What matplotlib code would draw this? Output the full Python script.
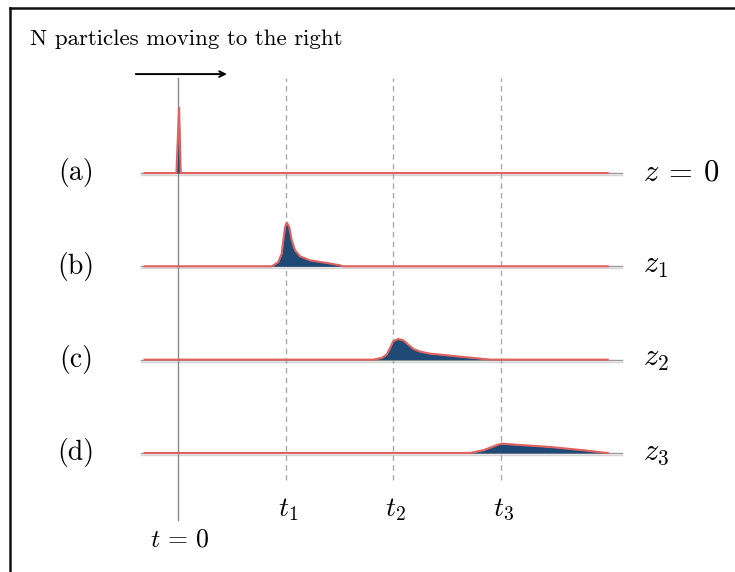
import numpy as np
import matplotlib.pyplot as plt
import matplotlib.patheffects as pe
from matplotlib.lines import Line2D

plt.rcParams['font.family'] = 'serif'
plt.rcParams['font.serif'] = ['cmr10']
plt.rcParams['mathtext.fontset'] = 'cm'
plt.rcParams['axes.unicode_minus'] = False

# time marks (t = 0, t1, t2, t3) and row labels
t_marks = [0, 1, 2, 3]
t_labels = [r'$t\,=\,0$', '$t_1$', '$t_2$', '$t_3$']
row_labels = ['(a)', '(b)', '(c)', '(d)']
z_labels = [r'$z\:=\:0$', '$z_1$', '$z_2$', '$z_3$']

# pulse shapes: (time, height) for each row
pulse_a_t = [-0.03, -0.015, 0.01, 0.025, 0.04]
pulse_a_h = [0.0, 0.0, 0.70, 0.0, 0.0]
pulse_b_t = [0.870, 0.931, 0.963, 0.978, 0.994, 1.010, 1.033, 1.056, 1.086,
             1.133, 1.226, 1.381, 1.504, 1.532]
pulse_b_h = [0.0, 0.046, 0.136, 0.279, 0.421, 0.469, 0.421, 0.279, 0.172,
             0.107, 0.064, 0.036, 0.011, 0.0]
pulse_c_t = [1.813, 1.891, 1.938, 1.969, 2.0, 2.045, 2.092, 2.138, 2.185,
             2.247, 2.340, 2.463, 2.618, 2.742, 2.834, 2.90]
pulse_c_h = [0.0, 0.018, 0.054, 0.125, 0.20, 0.221, 0.207, 0.161, 0.115,
             0.086, 0.064, 0.050, 0.032, 0.018, 0.008, 0.0]
pulse_d_t = [2.711, 2.835, 2.958, 3.005, 3.083, 3.454, 3.763, 3.98]
pulse_d_h = [0.0, 0.029, 0.083, 0.10, 0.093, 0.064, 0.029, 0.0]

pulses = [(pulse_a_t, pulse_a_h), (pulse_b_t, pulse_b_h),
          (pulse_c_t, pulse_c_h), (pulse_d_t, pulse_d_h)]

t_start, t_end = -0.31, 3.99
fill_col = '#1f4a75'
red = '#e0625f'

fig = plt.figure(figsize=(7.35, 5.72), dpi=100)
ax = fig.add_axes([0, 0, 1, 1])
ax.set_xlim(-1.653, 5.172)
ax.set_ylim(-4.276, 1.854)
ax.axis('off')

# vertical guides
ax.plot([0, 0], [-3.72, 1.02], color='#8a8a8a', lw=1.0, zorder=1)
for tm in t_marks[1:]:
    ax.plot([tm, tm], [-3.29, 1.02], color='#aaaaaa', lw=1.0,
            ls=(0, (4, 3)), zorder=1)

shadow = [pe.SimpleLineShadow(offset=(0, -1.5), shadow_color='#999999', alpha=0.4),
          pe.Normal()]

for k, (pt, ph) in enumerate(pulses):
    y0 = -k
    # gray base line
    ax.plot([t_start - 0.03, 4.12], [y0, y0], color='#999999', lw=1.0, zorder=2,
            path_effects=shadow)
    xs = np.concatenate([[t_start], pt, [t_end]])
    ys = np.concatenate([[0.0], ph, [0.0]]) + y0
    ax.fill_between(xs, y0, ys, color=fill_col, lw=0, zorder=3)
    ax.plot(xs, ys, color=red, lw=1.5, zorder=4, solid_joinstyle='round')
    ax.text(-0.947, y0, row_labels[k], fontsize=20, ha='center', va='center')
    ax.text(4.317, y0, z_labels[k], fontsize=22, ha='left', va='center')

# time labels
ax.text(0.02, -3.93, t_labels[0], fontsize=18.5, ha='center', va='center')
for tm, lab in zip(t_marks[1:], t_labels[1:]):
    ax.text(tm + 0.02, -3.61, lab, fontsize=20, ha='center', va='center')

# heading and arrow
ax.text(-1.374, 1.372, 'N particles moving to the right', fontsize=16.5,
        ha='left', va='baseline')
ax.annotate('', xy=(0.48, 1.06), xytext=(-0.418, 1.06),
            arrowprops=dict(arrowstyle='->', color='black', lw=1.4))

# frame (top and left edges)
fig.add_artist(Line2D([10 / 735, 1], [1 - 8 / 572, 1 - 8 / 572], color='#111111', lw=1.8))
fig.add_artist(Line2D([10 / 735, 10 / 735], [0, 1 - 8 / 572], color='#111111', lw=1.8))

fig.savefig('out.png', dpi=100)
